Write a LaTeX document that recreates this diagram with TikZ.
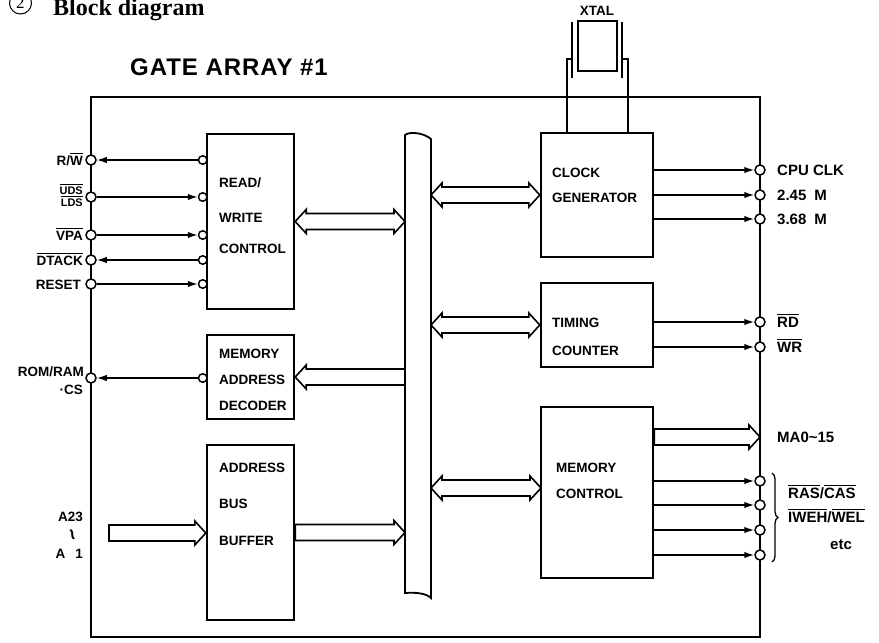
\documentclass[tikz,border=0pt]{standalone}
\usepackage{fontspec}
\setmainfont{Liberation Sans}
\newfontfamily\titlefont{Liberation Serif}
\newfontfamily\gafont[LetterSpace=4]{Liberation Sans}
\usetikzlibrary{arrows.meta,calc,decorations.pathreplacing}
\newcommand\ovl[1]{\vbox{\hrule height1.1pt\kern1.3pt\hbox{#1}}}
% hollow double arrow, horizontal, from #1 (left) to #2 (right)
\newcommand\dblarr[2]{\draw[hol] let \p1=(#1), \p2=(#2) in
  (\x1,\y1) -- (\x1+11pt,\y1+12pt) -- (\x1+11pt,\y1+8pt) -- (\x2-11pt,\y1+8pt) -- (\x2-11pt,\y1+12pt)
  -- (\x2,\y1) -- (\x2-11pt,\y1-12pt) -- (\x2-11pt,\y1-8pt) -- (\x1+11pt,\y1-8pt) -- (\x1+11pt,\y1-12pt) -- cycle;}
% hollow arrow pointing right, tail #1, tip #2
\newcommand\rarr[2]{\draw[hol] let \p1=(#1), \p2=(#2) in
  (\x1,\y1+8pt) -- (\x2-11pt,\y1+8pt) -- (\x2-11pt,\y1+12pt) -- (\x2,\y1)
  -- (\x2-11pt,\y1-12pt) -- (\x2-11pt,\y1-8pt) -- (\x1,\y1-8pt) -- cycle;}
% hollow arrow pointing left, tip #1, tail #2
\newcommand\larr[2]{\draw[hol] let \p1=(#1), \p2=(#2) in
  (\x1,\y1) -- (\x1+11pt,\y1+12pt) -- (\x1+11pt,\y1+8pt) -- (\x2,\y1+8pt)
  -- (\x2,\y1-8pt) -- (\x1+11pt,\y1-8pt) -- (\x1+11pt,\y1-12pt) -- cycle;}
\begin{document}
\begin{tikzpicture}[x=1pt,y=-1pt,
  lbl/.style={font=\fontsize{13.5}{14}\selectfont\bfseries, inner sep=0pt},
  rlbl/.style={font=\fontsize{15}{16}\selectfont\bfseries, inner sep=0pt},
  blk/.style={draw, line width=2.4pt, inner sep=0pt},
  pinc/.style={circle, draw, fill=white, line width=1.5pt, minimum size=10pt, inner sep=0pt},
  ipin/.style={circle, draw, fill=white, line width=1.5pt, minimum size=8.5pt, inner sep=0pt},
  sig/.style={line width=1.5pt, -{Latex[length=10pt,width=6.5pt]}},
  hol/.style={draw, line width=1.6pt, fill=white, line join=miter},
  wire/.style={line width=1.8pt},
]
\useasboundingbox (0,0) rectangle (879,643);

% title
\node[circle, draw, line width=1pt, minimum size=22pt, inner sep=0pt] (c2) at (20.5,3)
  {\titlefont\fontsize{17}{17}\selectfont 2};
\node[anchor=base west, inner sep=0pt, font=\titlefont\bfseries\fontsize{24}{24}\selectfont] (title) at (53,15) {Block diagram};
\node[anchor=base west, inner sep=0pt, font=\gafont\fontsize{24}{24}\selectfont\bfseries] (ga) at (130,75) {GATE ARRAY \#1};

% outer boundary
\draw[line width=2.4pt] (91,97) rectangle (760,637);

% crystal
\node[draw, line width=2.4pt, minimum width=39pt, minimum height=50pt, inner sep=0pt] (xtal) at (597.5,46) {};
\node[font=\fontsize{13.5}{14}\selectfont\bfseries, inner sep=0pt] (lx) at (597,11) {XTAL};
\draw[wire] (572,22) -- (572,78);
\draw[wire] (622,22) -- (622,78);

% blocks
\node[blk, minimum width=87pt, minimum height=175pt] (rw) at (250.5,221.5) {};
\node[blk, minimum width=87pt, minimum height=84pt] (dec) at (250.5,377) {};
\node[blk, minimum width=87pt, minimum height=175pt] (abb) at (250.5,532.5) {};
\node[blk, minimum width=112pt, minimum height=124pt] (clk) at (597,195) {};
\node[blk, minimum width=112pt, minimum height=84pt] (tim) at (597,325) {};
\node[blk, minimum width=112pt, minimum height=171pt] (mem) at (597,492.5) {};

% crystal leads
\coordinate (xl) at (567,59);
\coordinate (xr) at (628,59);
\draw[wire] (clk.north -| xl) -- (xl) -- (572,59);
\draw[wire] (clk.north -| xr) -- (xr) -- (622,59);

% block texts
\node[lbl, anchor=base west] (t1) at (219,187) {READ/};
\node[lbl, anchor=base west] (t2) at (219,222) {WRITE};
\node[lbl, anchor=base west] (t3) at (219,253) {CONTROL};
\node[lbl, anchor=base west] (t4) at (219,358) {MEMORY};
\node[lbl, anchor=base west] (t5) at (219,384) {ADDRESS};
\node[lbl, anchor=base west] (t6) at (219,410) {DECODER};
\node[lbl, anchor=base west] (t7) at (219,472) {ADDRESS};
\node[lbl, anchor=base west] (t8) at (219,508) {BUS};
\node[lbl, anchor=base west] (t9) at (219,545) {BUFFER};
\node[lbl, anchor=base west] (t10) at (552,177) {CLOCK};
\node[lbl, anchor=base west] (t11) at (552,202) {GENERATOR};
\node[lbl, anchor=base west] (t12) at (552,327) {TIMING};
\node[lbl, anchor=base west] (t13) at (552,355) {COUNTER};
\node[lbl, anchor=base west] (t14) at (556,472) {MEMORY};
\node[lbl, anchor=base west] (t15) at (556,498) {CONTROL};

% bus
\draw[line width=1.8pt] (405,593) -- (405,135) .. controls (410,131) and (424,133) .. (431,139)
  -- (431,598) .. controls (427,594) and (418,592) .. (405,593) -- cycle;
\coordinate (busL) at (405,300);
\coordinate (busR) at (431,300);

% hollow arrows
\coordinate (memin) at (541,488);
\coordinate (ain) at (109,533);
\coordinate (maout) at (760,437);
\dblarr{rw.east}{busL |- rw.east}
\dblarr{busR |- clk.west}{clk.west}
\dblarr{busR |- tim.west}{tim.west}
\dblarr{busR |- memin}{memin}
\larr{dec.east}{busL |- dec.east}
\rarr{abb.east}{busL |- abb.east}
\rarr{ain}{abb.west}
\rarr{mem.east |- maout}{maout}

% left pins
\node[pinc] (pRW) at (91,160) {};
\node[pinc] (pUDS) at (91,197) {};
\node[pinc] (pVPA) at (91,235) {};
\node[pinc] (pDT) at (91,260) {};
\node[pinc] (pRES) at (91,284) {};
\node[pinc] (pROM) at (91,378) {};
\node[ipin] (iRW) at (202.75,160) {};
\node[ipin] (iUDS) at (202.75,197) {};
\node[ipin] (iVPA) at (202.75,235) {};
\node[ipin] (iDT) at (202.75,260) {};
\node[ipin] (iRES) at (202.75,284) {};
\node[ipin] (iROM) at (202.75,378) {};
\draw[sig] (iRW) -- (pRW);
\draw[sig] (pUDS) -- (iUDS);
\draw[sig] (pVPA) -- (iVPA);
\draw[sig] (iDT) -- (pDT);
\draw[sig] (pRES) -- (iRES);
\draw[sig] (iROM) -- (pROM);

% right pins
\node[pinc] (pCPU) at (760,170) {};
\node[pinc] (p245) at (760,195) {};
\node[pinc] (p368) at (760,219) {};
\node[pinc] (pRD) at (760,322) {};
\node[pinc] (pWR) at (760,347) {};
\node[pinc] (pM1) at (760,481) {};
\node[pinc] (pM2) at (760,505) {};
\node[pinc] (pM3) at (760,530) {};
\node[pinc] (pM4) at (760,555) {};
\draw[sig] (clk.east |- pCPU) -- (pCPU);
\draw[sig] (clk.east |- p245) -- (p245);
\draw[sig] (clk.east |- p368) -- (p368);
\draw[sig] (tim.east |- pRD) -- (pRD);
\draw[sig] (tim.east |- pWR) -- (pWR);
\draw[sig] (mem.east |- pM1) -- (pM1);
\draw[sig] (mem.east |- pM2) -- (pM2);
\draw[sig] (mem.east |- pM3) -- (pM3);
\draw[sig] (mem.east |- pM4) -- (pM4);

% brace
\coordinate (brt) at (772,473);
\coordinate (brb) at (772,562);
\draw[line width=1.3pt, decorate, decoration={brace, amplitude=6pt}] (brt) -- (brb);

% left labels
\node[lbl, anchor=base east] (lRW) at (83,165) {R/\ovl{W}};
\node[anchor=base east, inner sep=0pt, font=\fontsize{11}{11}\selectfont\bfseries] (lUDS) at (83,194) {\ovl{UDS}};
\node[anchor=base east, inner sep=0pt, font=\fontsize{11}{11}\selectfont\bfseries] (lLDS) at (83,206) {\ovl{LDS}};
\node[lbl, anchor=base east] (lVPA) at (83,240) {\ovl{VPA}};
\node[lbl, anchor=base east] (lDT) at (83,265) {\ovl{DTACK}};
\node[lbl, anchor=base east] (lRES) at (81,289) {RESET};
\node[lbl, anchor=base east] (lROM) at (84,376) {ROM/RAM};
\node[lbl, anchor=base east] (lCS) at (83,394) {·CS};
\node[lbl, anchor=base east] (lA23) at (83,521) {A23};
\node[inner sep=0pt, rotate=-70, font=\fontsize{20}{20}\selectfont\bfseries] (lwr) at (70,536) {\textasciitilde};
\node[lbl, anchor=base east] (lA1) at (83,558) {A\hspace{10pt}1};

% right labels
\node[rlbl, anchor=base west] (rCPU) at (777,175) {CPU CLK};
\node[rlbl, anchor=base west] (r245) at (777,200) {2.45\hspace{8pt}M};
\node[rlbl, anchor=base west] (r368) at (777,224) {3.68\hspace{8pt}M};
\node[rlbl, anchor=base west] (rRD) at (777,327) {\ovl{RD}};
\node[rlbl, anchor=base west] (rWR) at (777,352) {\ovl{WR}};
\node[rlbl, anchor=base west] (rMA) at (777,442) {MA0\textasciitilde15};
\node[rlbl, anchor=base west] (rRAS) at (788,498) {\ovl{RAS}/\ovl{CAS}};
\node[rlbl, anchor=base west] (rIWE) at (788,522) {\ovl{IWEH}/\ovl{WEL}};
\node[rlbl, anchor=base west] (retc) at (830,549) {etc};
\end{tikzpicture}
\end{document}
